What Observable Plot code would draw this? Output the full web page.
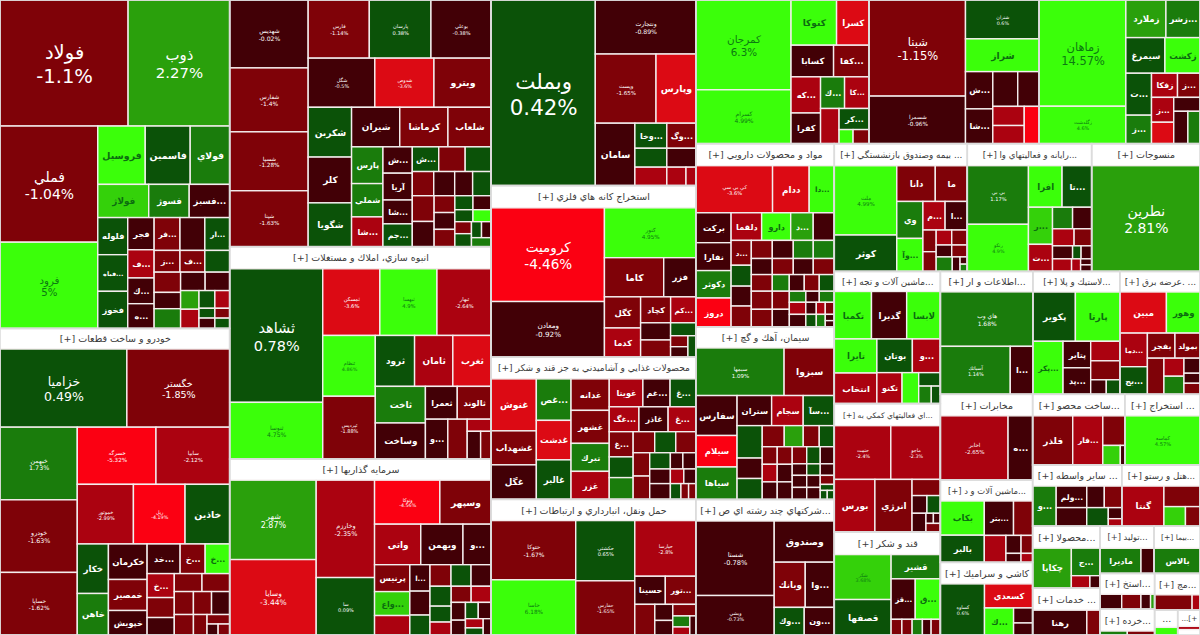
<!DOCTYPE html>
<html><head><meta charset="utf-8">
<style>html,body{margin:0;padding:0;background:#fff;overflow:hidden}</style>
<script src="https://cdn.jsdelivr.net/npm/d3@7"></script>
<script src="https://cdn.jsdelivr.net/npm/@observablehq/plot@0.6"></script>
</head><body><div id="chart"></div>
<script>
// Each leaf: [ticker, % change, market weight]. "v" stacks children, "h" sets them side by side.
const metals=["v",
 ["h",["فولاد",-1.1,16064],["ذوب",2.27,12738]],
 ["h",["v",["فملي",-1.04,11300],["فرود",5,8390]],
  ["v",
   ["h",["فروسيل",4.5,2755],["فاسمين",0.6,2610],["فولاي",1.5,2291]],
   ["h",["فولاژ",3.5,1683],["فسوژ",1.5,1337],["...فسبز",-0.7,1337]],
   ["h",
    ["v",["فلوله",0.6,1106],["...فباه",0.6,1092],["فخوز",0.6,1106]],
    ["v",["فجر",-0.7,845],["...ف",-2.5,741],["...ك",-0.7,676],["...ه",-0.7,650]],
    ["v",
     ["h",["...فر",-1.5,845],["",-0.7,812],["...ار",0.6,812]],
     ["h",["...ز",-1.5,559],["...ف",-1.5,537],["",0.6,537]],
     ["h",
      ["v",["",-1.5,533],["",-0.7,429],["",1.5,520]],
      ["v",
       ["h",["",-0.7,450],["",-0.7,450]],
       ["h",
        ["v",["",2.5,342],["",-2.5,351]],
        ["v",["",0.6,279],["",0.6,155],["",-0.7,163]],
        ["v",["",-2.5,261],["",-1.5,145],["",0.6,152
 ]]]]] ]]]]];
const auto=["v",["خودرو و ساخت قطعات [+]",null,4705],
 ["h",["خزاميا",0.49,9867],["خگستر",-1.85,7995]],
 ["h",["v",["خبهمن",1.73,5582],["خودرو",-1.63,5582],["خساپا",-1.62,4812]],
  ["v",
   ["h",["خسرگه",-5.32,4475],["سايپا",-2.12,4190]],
   ["h",["خموتور",-2.99,3332],["ريل",-4.19,3064],["خاذين",0.6,2648]],
   ["h",
    ["v",["خكار",0.6,1535],["خاهن",1.5,1287]],
    ["v",["خكرمان",-0.7,1367],["خمصير",-1.5,1194],["خپويش",-0.7,943]],
    ["v",
     ["h",["...خد",-0.7,974],["...خ",-1.5,738],["...خ",4.5,723]],
     ["h",
      ["v",["...خ",-2.3,648],["",-1.5,540],["",-0.7,472]],
      ["v",
       ["h",["",-1.5,495],["",-1.5,495]],
       ["h",["",-1.5,437],["",-1.5,414],["",-0.7,414]],
       ["h",["",-1.5,390],["",-1.5,277],
        ["v",["",-1.5,214],["h",["",-0.7,121],["",-1.5,126
 ]]]]] ]]]]] ];
const chem=["h",
 ["v",["شهديس",-0.02,5304],["شفارس",-1.4,4992],["شسپا",-1.28,4602],["شپنا",-1.63,4368]],
 ["v",
  ["h",["فارس",-1.14,3538],["پارسان",0.38,3567],["بوعلي",-0.38,3480]],
  ["h",["شگل",-0.5,3258],["شدوص",-3.6,2891],["ويترو",-1.8,2793]],
  ["h",
   ["v",["شكربن",0.6,2150],["كلر",-0.6,1978],["شگويا",0.6,1892]],
   ["v",
    ["h",["شيران",-0.6,1896],["كرماشا",-1.5,1896],["شلعاب",-1.5,1698]],
    ["h",
     ["v",["پارس",1.5,1147],["شملي",1.5,1039],["...شا",-2.5,930]],
     ["v",["...ش",-0.7,769],["آريا",-0.7,783],["...شا",-0.7,696],["...جم",0.6,667]],
     ["v",
      ["h",["...ش",0.6,650],["",-1.5,650],["",0.6,637]],
      ["h",["",-1.5,516],["",-0.7,504],["",-0.7,432],["",0.6,444]],
      ["h",
       ["v",["",-1.5,559],["",-0.8,548]],
       ["v",["",-1.8,347],["",-0.7,347],["",-1.8,357]],
       ["v",
        ["h",["",0.6,252],["",-0.7,252]],
        ["h",["",0.6,216],["",5,216]],
        ["h",
         ["v",["",-1.5,198],["",0.6,215]],
         ["v",["h",["",0.6,160],["",-0.7,152]],["",1.2,176
 ]]]]] ]]]]] ];
const mass=["v",["انبوه سازي، املاك و مستغلات [+]",null,5742],
 ["h",
  ["v",["ثشاهد",0.78,12369],["ثنوسا",4.75,5254]],
  ["v",
   ["h",["ثمسكن",-3.6,3790],["ثبهسا",4.9,3790],["ثبهار",-2.64,3591]],
   ["h",
    ["v",["ثنظام",4.86,3180],["ثپرديس",-1.88,3286]],
    ["v",
     ["h",["ثرود",0.6,1989],["ثامان",-2.5,1938],["ثغرب",-3.5,1938]],
     ["h",
      ["v",["ثاخت",1.5,1825],["وساخت",-0.7,1800]],
      ["v",
       ["h",["ثعمرا",-0.7,1040],["ثالوند",-1.5,1105]],
       ["h",["...و",-0.7,889],["",-1.5,770],
        ["v",["",-2.5,288],["h",["",-0.8,371],["",-1.5,289
 ]]]]] ]]]]] ];
const invest=["v",["سرمايه گذاريها [+]",null,5481],
 ["h",
  ["v",["شهر",2.87,6837],["وسايا",-3.44,6493]],
  ["v",["وخارزم",-2.35,5655],["سا",0.09,3335]],
  ["v",
   ["h",["وتوكا",-4.56,2860],["وسپهر",-1.7,2244]],
   ["h",["واتي",-2.5,1863],["ويهمن",-0.7,1701],["...و",-0.7,1134]],
   ["h",
    ["v",["پرنيس",-1.8,945],["...واع",3.5,840],["",-2.5,683]],
    ["v",["...ا",-0.7,530],["",-0.7,480],["",0.6,400]],
    ["v",
     ["h",["",-1.5,451],["",0.6,430],["",-0.7,430]],
     ["h",
      ["v",["",0.6,420],["",0.6,336],["",-2.5,273]],
      ["v",
       ["h",["",-1.5,320],["",-2.5,320]],
       ["h",
        ["v",["",-0.7,252],["",-0.7,210]],
        ["v",
         ["h",["",0.6,208],["",-0.7,208]],
         ["h",["v",["",-2.5,162],["",0.6,126]],["",-0.7,128
 ]]]]] ]]]]] ];
const banks=["h",["وبملت",0.42,19240],
 ["v",["ونتجارت",-0.89,5404],
  ["h",["وپست",-1.65,4179],["وپارس",-3.5,2740]],
  ["h",["سامان",-0.7,2457],
   ["v",
    ["h",["...وخا",0.6,796],["...وگ",-2.0,723]],
    ["h",["",0.6,601],["",-0.7,546]],
    ["h",["",-2.3,585],["",-2.3,351],["",-2.3,180
 ]]]]] ];
const kane=["v",["استخراج كانه هاي فلزي [+]",null,4532],
 ["h",
  ["v",["كروميت",-4.46,10566],["ومعادن",-0.92,6272]],
  ["v",["كنور",4.95,4533],
   ["h",["كاما",-1.6,2310],["فزر",-0.7,1251]],
   ["h",
    ["v",["كگل",-1.6,1120],["كدما",-2.5,1050]],
    ["v",
     ["h",["كچاد",-1.5,775],["...كم",-2.3,650]],
     ["h",
      ["v",["",-0.7,512],["",-1.5,512]],
      ["v",["",0.6,325],
       ["h",["v",["",-1.5,189],["",-0.7,180]],["",0.6,168
 ]]]]] ]]]];
const food=["v",["محصولات غذايي و آشاميدني به جز قند و شكر [+]",null,4429],
 ["h",
  ["v",["غنوش",-3.6,2340],["غشهداب",-1.5,1530],["غگل",-0.7,1553]],
  ["v",["...غص",1.5,1432],["غدشت",-3.5,1363],["غالبر",0.6,1363]],
  ["v",["غدانه",-1.5,1197],["غشهر",-1.5,1254],["تبرك",1.5,1064],["غزر",-2.3,1064]],
  ["v",
   ["h",["غويتا",-2.5,935],["...غم",-0.7,756],["...غ",0.6,715]],
   ["h",["...غگ",-2.3,735],["غاذر",-0.7,723],["...غ",-2.3,686]],
   ["h",
    ["v",["...غ",-1.5,599],["",0.6,494],["",1.5,517]],
    ["v",
     ["h",["",-1.5,451],["",0.6,441],["",-1.5,420]],
     ["h",
      ["v",["",-1.5,384],["",-1.5,384]],
      ["v",
       ["h",["",0.6,333],["",-0.7,202],["",-0.7,209]],
       ["h",["",-0.7,301],["",-2.3,196],["",-0.7,175]],
       ["h",["",-0.7,323],["",0.6,165],["",-1.5,120],["",-2,113
 ]]]]] ]]]];
const haml=["v",["حمل ونقل، انبارداري و ارتباطات [+]",null,4326],
 ["h",
  ["v",["حتوكا",-1.67,4986],["حاسا",6.18,4648]],
  ["v",["حكشتي",0.65,3540],["حفارس",-1.65,3186]],
  ["v",["حپارسا",-2.8,3379],
   ["h",["حسينا",-0.7,853],["...تور",-2,853]],
   ["h",["",-1.5,610],
    ["v",["",-0.7,288],["",-0.7,261]],
    ["v",["",-1.5,265],
     ["h",["v",["",1.5,187],["",-2.5,136]],["",-0.7,114
 ]]]]] ]];
const mines=["h",
 ["v",["كمرجان",6.3,8505],["كسرام",4.99,5103]],
 ["v",
  ["h",["كتوكا",4.5,2048],["كسرا",-3.5,1463]],
  ["h",["كسابا",-0.7,1339],["...كفا",-2,1118]],
  ["h",
   ["v",["...كه",-2.3,1062],["كفرا",-0.7,900]],
   ["v",
    ["h",["...ك",1.5,756],["...كا",-2.3,772]],
    ["h",["",-2.3,648],
     ["v",["...كر",0.6,630],["h",["",4.5,196],["",-2,224
 ]]]]] ]]];
const oil=["h",
 ["v",["شبنا",-1.15,9216],["شسمرا",-0.96,4560]],
 ["v",["شتران",0.6,2849],["شراز",4.5,2405],
  ["h",
   ["v",["...ش",-0.7,1012],["...شا",-0.7,945]],
   ["v",
    ["h",["",-0.7,862],["",-0.7,742]],
    ["h",
     ["v",["",-2.5,599],["",-2.5,567]],
     ["",-4.5,555
 ]]]]] ];
const zr=["h",
 ["v",["زماهان",14.57,9159],["زگلدشت",4.6,3225]],
 ["v",
  ["h",["زملارد",2.5,1500],["...زشر",1.5,1275]],
  ["h",["سيمرغ",0.6,1385],["زكشت",4.5,1243]],
  ["h",
   ["v",["...ت",0.6,1071],["...ز",1.5,727]],
   ["v",
    ["h",["زفكا",-2.3,624],["...ز",-1.5,540]],
    ["h",
     ["v",["...ز",-2.2,550],["",-3.5,473]],
     ["v",["",-0.7,364],["h",["",-0.7,455],["",1.5,390
 ]]]]] ]]];
const pharma=["v",["مواد و محصولات دارويي [+]",null,3036],
 ["h",["كي بي سي",-3.6,3596],["ددام",-3.5,1716],["...دا",4.5,1175]],
 ["h",
  ["v",["بركت",-0.7,1050],["نفارا",-0.7,980],["دكوثر",1.5,962],["دروز",-4.5,1015]],
  ["v",
   ["h",["دلقما",-3,839],["دارو",4.5,798],["...د",2.5,619],["",-0.7,578]],
   ["h",
    ["v",["...د",-1.5,500],["",0.9,420],["",-0.7,400],["",-1.5,420]],
    ["v",
     ["h",["",-1.5,378],["",-0.7,378],["",1.5,360],["",1.5,378]],
     ["h",["",-0.7,336],["",-1.5,336],["",-0.7,320],["",-1.5,336]],
     ["h",["",-1.5,347],["",1.5,281],["",-0.7,248],["",-1.5,248],["",0.6,248]],
     ["h",
      ["v",["",-1.5,378],["",-1.5,368]],
      ["v",["",-1.5,306],["",-0.7,298]],
      ["v",
       ["h",["",1.5,182],["",-0.7,148],["",1.5,165]],
       ["h",["",-2.3,198],["",-0.7,126],["",-2.5,108],["",-2,108]],
       ["h",["",-0.7,206],["",0.6,131],["",1.5,112],["v",["",-0.7,56],["",-0.7,56
 ]]]]] ]]]]];
const cement=["v",["سيمان، آهك و گچ [+]",null,2898],
 ["h",["سيمها",1.09,4180],["سبزوا",-1.5,2375]],
 ["h",
  ["v",["سفارس",-0.7,1640],["سيلام",-4.5,1292],["سياها",1.5,1333]],
  ["v",
   ["h",["ستران",-0.7,1035],["سجام",-2.3,945],["...سآ",0.6,930]],
   ["h",
    ["v",["",0.6,812],["",-0.7,512],["",0.6,525]],
    ["v",
     ["h",["",-1.5,462],["",2.5,399],["",-1.5,336],["",0.6,315]],
     ["h",
      ["v",["",-1.5,262],["",-2.5,262],["",-0.7,262]],
      ["v",["",-1.5,262],["",-0.7,262],["",-0.7,262]],
      ["v",["",-1.5,246],["",-0.7,167],["",-0.7,174],["",-0.7,174]],
      ["v",["",0.6,230],["",0.6,155],["",-0.7,162],["",-0.7,162]],
      ["v",["",-0.7,238],["",-0.7,161],["",-1.5,126],["",0.6,84],["h",["",0.6,63],["",0.6,63
 ]]]]] ]]]];
const multi=["v",["...شركتهاي چند رشته اي ص [+]",null,2967],
 ["h",
  ["v",["شستا",-0.78,5811],["وبشي",-0.73,3081]],
  ["v",["وصندوق",-0.7,2460],
   ["h",["وبانك",-1.5,1395],["...وا",-0.7,1305]],
   ["h",["...وك",0.6,825],["...ون",-0.7,825
 ]]]]];
const bime=["v",["... بيمه وصندوق بازنشستگي [+]",null,2926],
 ["h",
  ["v",["ملت",4.99,4309],["كوثر",0.6,2263]],
  ["v",
   ["h",["دانا",-1.5,1367],["ما",-1.5,1136]],
   ["h",
    ["v",["وي",1.5,962],["...وآ",4.5,858]],
    ["v",
     ["h",["...م",-2.5,630],["...ا",-0.7,630]],
     ["h",
      ["v",["",-1.5,286],["",-1.5,260]],
      ["v",
       ["h",["",-3,232],["",-1.5,232]],
       ["h",["",-0.7,184],["",-1.5,184]],
       ["h",["",1.5,232],["",-0.7,112],["v",["",-0.7,52],["",1.5,52
 ]]]]] ]]]]];
const rayane=["v",["...رايانه و فعاليتهاي وا [+]",null,2728],
 ["h",
  ["v",["بي بي",1.17,3569],["رتكو",4.9,2867]],
  ["v",
   ["h",["افرا",4.5,1390],["...تا",0.6,1224]],
   ["h",
    ["v",["...ر",3.5,888],["...ت",-2.2,648]],
    ["v",
     ["h",["",1.5,430],["",-0.7,409]],
     ["h",["",-3,366],["",-1.5,298]],
     ["h",["",-0.7,260],["",0.6,110],["",-0.7,137]],
     ["h",["",-3,238],["",-3,113],["v",["",-0.7,66],["",-0.7,72
 ]]]]] ]]];
const mansooj=["v",["منسوجات [+]",null,2376],["نطرين",2.81,11394]];
const machine=["v",["...ماشين آلات و تجه [+]",null,2120],
 ["h",["تكمبا",4.5,1758],["گدیرا",-0.7,1662],["لابسا",4.5,1591]],
 ["h",
  ["v",["تايرا",4.5,1445],["انتخاب",-2.3,1296]],
  ["v",
   ["h",["بوتان",0.6,1189],["...و",-2.5,938]],
   ["h",["تكنو",-3,775],["",4.5,512],
    ["v",["",0.6,290],["h",["",1.5,219],["",0.6,158
 ]]]]] ]];
const komaki=["v",["...اي فعاليتهاي كمكي به [+]",null,2332],
 ["h",["حتمت",-2.4,3023],["ماجو",-2.3,2648]],
 ["h",["بورس",-2.3,2126],["انرژي",-1.7,1943],
  ["v",["",-1.5,456],
   ["h",["",-0.7,262],["",0.6,236]],
   ["h",["",-0.7,259],["v",["h",["",-0.7,75],["",-0.7,70]],["",-2,123
 ]]]]] ];
const ghand=["v",["قند و شكر [+]",null,2385],
 ["h",
  ["v",["شكر",3.68,2543],["قصفها",0.6,2006]],
  ["v",["قشير",1.5,1188],
   ["h",["...قز",-0.7,972],["...ق",4.5,1012]],
   ["h",["",-1.5,168],["",-1.5,160],["",1.5,160],["",-0.7,136],["",-1.5,144
 ]]]]];
const etela=["v",["...اطلاعات و ار [+]",null,1886],
 ["هاي وب",1.68,5014],
 ["h",["آسياتك",1.14,3336],["...ا",-0.7,1080]]];
const plast=["v",["...لاستيك و پلا [+]",null,1784],
 ["h",["پكوير",0.6,2082],["پارتا",4.5,2180]],
 ["h",["...پكر",4.5,1590],
  ["v",["پتاير",-0.7,729],["...پد",-0.7,729]],
  ["v",["",-2.3,566],["",-1.5,551],["h",["",-0.7,225],["",0.6,196
 ]]]]];
const bargh=["v",["... .عرضه برق [+]",null,1640],
 ["h",["مبين",-3.5,1906],["وهور",4.5,1374]],
 ["h",
  ["v",["...دما",-3,921],["...بج",0.6,756]],
  ["v",
   ["h",["بفجر",-1.5,688],["بمولد",-1.5,625]],
   ["h",["",-1.5,594],
    ["v",["",-2.5,360],["",1.5,360]],
    ["v",["",-0.7,240],["",-0.7,160],["",-1.5,176
 ]]]]] ];
const mokh=["v",["مخابرات [+]",null,1978],["h",["اخابر",-2.65,4320],["...ه",-0.7,1568]]];
const mach2=["v",["...ماشين آلات و د [+]",null,1932],
 ["h",
  ["v",["بكاب",4.5,1496],["بالبر",0.6,1188]],
  ["v",
   ["h",["...بتر",-0.7,1000],["",-1.5,655]],
   ["h",["",-2.3,580],
    ["v",["h",["",-0.7,270],["",-1.5,207]],["h",["",-0.7,135],["",-2.3,104
 ]]]]] ]];
const kashi=["v",["كاشي و سراميك [+]",null,1978],
 ["h",["كساوه",0.6,2244],
  ["v",["كسعدي",-3.5,1152],
   ["h",["...ك",4.5,783],["v",["",-0.7,285],["",-0.7,228
 ]]]]] ];
const sakht=["v",["...ساخت محصو [+]",null,1978],
 ["h",["فلذر",-1.5,1960],["...فار",-2.3,1470],
  ["v",["",-2,649],["h",["",3.8,341],["",-0.7,88
 ]]]]];
const estekh=["v",["... استخراج [+]",null,1612],["كماسه",4.57,3675]];
const vase=["v",["... ساير واسطه [+]",null,1869],
 ["h",["...و",1.5,940],
  ["v",
   ["h",["...ولم",-0.8,656],["",-0.7,376],["",-2,376]],
   ["h",["",-0.7,564],["",0.6,398],["v",["",-0.7,149],["",-2.3,101
 ]]]]] ];
const hotel=["v",["...هتل و رستو [+]",null,1638],
 ["h",["گنتا",-2.3,1680],
  ["v",["",-1.5,738],["h",["",3.5,419],["",-1.5,283
 ]]]]];
const mahsoola=["v",["...محصولا [+]",null,1474],
 ["h",["چكاپا",2.5,1540],
  ["v",["...ج",1.5,784],["h",["",-3,231],["",-0.7,125
 ]]]]];
const khadamat=["v",["... خدمات [+]",null,1474],["h",["رهنا",-0.7,1338],["",-1.5,325]]];
const tolid=["v",["...توليد [+]",null,1188],["h",["ماديرا",1.5,1025],["",-0.7,325]]];
const bima=["v",["...بيما [+]",null,1012],["بالاس",1.5,1150]];
const estk2=["v",["...استخ [+]",null,1134],["h",["",-0.7,322],["",-1.5,285],["",-0.7,143],["",2.5,60]]];
const moj=["v",["...مج [+]",null,966],["h",["",-1.5,570],["",-3,120]]];
const kharde=["v",["...خرده [+]",null,1188],["h",["",1.5,108],["",-1.5,108]]];
const small1=["v",["...",null,396],["",4.5,176]];
const small2=["v",["+]...",null,360],["",-2.3,72],["",null,120]];

const withPercent=["فولاد","ذوب","فملي","فرود","خزاميا","خگستر","خبهمن","خودرو","خساپا","خسرگه","سايپا","خموتور","ريل",
 "شهديس","شفارس","شسپا","شپنا","فارس","پارسان","بوعلي","شگل","شدوص","ثشاهد","ثنوسا","ثمسكن","ثبهسا","ثبهار","ثنظام","ثپرديس",
 "شهر","وسايا","وخارزم","سا","وتوكا","وبملت","ونتجارت","وپست","كروميت","ومعادن","كنور","حتوكا","حاسا","حكشتي","حفارس","حپارسا",
 "كمرجان","كسرام","شبنا","شسمرا","شتران","زماهان","زگلدشت","كي بي سي","سيمها","شستا","وبشي","ملت","بي بي","رتكو","نطرين","حتمت","ماجو",
 "شكر","هاي وب","آسياتك","اخابر","كساوه","كماسه"];

const colA=["v",metals,auto];
const colB=["v",chem,mass,invest];
const colC=["v",banks,kane,food,haml];
const rowTop=["h",mines,oil,zr];
const colD=["v",pharma,cement,multi];
const rowMid=["h",bime,rayane,mansooj];
const colE=["v",machine,komaki,ghand];
const rowLow=["h",etela,plast,bargh];
const colF=["v",mokh,mach2,kashi];
const rowG=["h",sakht,estekh];
const rowH=["h",vase,hotel];
const colI=["v",mahsoola,khadamat];
const rowJ=["h",tolid,bima];
const colK=["v",estk2,kharde];
const colL=["v",moj,["h",small1,small2]];
const corner=["h",colI,["v",rowJ,["h",colK,colL]]];
const colM=["v",rowG,rowH,corner];
const blockN=["v",rowLow,["h",colF,colM]];
const blockO=["v",rowMid,["h",colE,blockN]];
const right=["v",rowTop,["h",colD,blockO]];
const tree=["h",colA,colB,colC,right];

const groups=new Set([metals,auto,chem,mass,invest,banks,kane,food,haml,mines,oil,zr,pharma,cement,multi,bime,rayane,mansooj,
 machine,komaki,ghand,etela,plast,bargh,mokh,mach2,kashi,sakht,estekh,vase,hotel,mahsoola,khadamat,tolid,bima,estk2,moj,kharde,small1,small2]);

const isNode=d=>d[0]==="v"||d[0]==="h";
const root=d3.hierarchy(tree,d=>isNode(d)?d.slice(1):null).sum(d=>isNode(d)?0:d[2]);
d3.treemap().size([1200,635]).round(false)
 .tile((n,x0,y0,x1,y1)=>(n.data[0]==="v"?d3.treemapSlice:d3.treemapDice)(n,x0,y0,x1,y1))(root);

const box=n=>({x1:n.x0,x2:n.x1,y1:n.y0,y2:n.y1,cx:(n.x0+n.x1)/2,cy:(n.y0+n.y1)/2,area:(n.x1-n.x0)*(n.y1-n.y0)});
const leaves=root.leaves().map(n=>({...box(n),name:n.data[0],change:n.data[1]}));
const cells=leaves.filter(d=>d.change!==null);
const headers=leaves.filter(d=>d.change===null);
const outlines=root.descendants().filter(n=>groups.has(n.data)).map(box);

const shown=new Set(withPercent);
const bigSize=d3.scaleLinear([3000,5500,8000,10500,12500,16000,19500],[4.8,6.2,9.5,13.5,14.5,19.5,21.5]).clamp(true);
const rtl=s=>"\u200F"+s+"\u200F";
const pctCells=cells.filter(d=>shown.has(d.name));
const nameCells=cells.filter(d=>d.name&&!shown.has(d.name));
const onBright=d=>d.change>=3;
const FONT="DejaVu Sans";

const pctLabels=(data,fill)=>Plot.text(data,{x:"cx",y:"cy",lineAnchor:"middle",lineHeight:1.22,fontFamily:FONT,fill,
 text:d=>rtl(d.name)+"\n"+d.change+"%",fontSize:d=>bigSize(d.area)});
const nameLabels=(data,fill)=>Plot.text(data,{x:"cx",y:"cy",lineAnchor:"middle",fontFamily:FONT,fontWeight:"bold",fill,
 text:d=>rtl(d.name),fontSize:d=>Math.min(6.5+Math.sqrt(d.area)/18,(d.x2-d.x1-3)/(d.name.length*0.6))});

const chart=Plot.plot({
 width:1200,height:635,margin:0,
 x:{domain:[0,1200],range:[0,1200],axis:null},
 y:{domain:[0,635],range:[0,635],axis:null},
 color:{type:"threshold",domain:[-4,-3,-2,-1,0,1,2,3,4],
  range:["#fb0012","#dc0a14","#ab0210","#7f0208","#420006","#0b5208","#1a7c0c","#2aa00c","#34d10a","#3bff0a"]},
 style:{background:"#fff",display:"block"},
 marks:[
  Plot.rect(headers,{x1:"x1",x2:"x2",y1:"y1",y2:"y2",fill:"white"}),
  Plot.rect(cells,{x1:"x1",x2:"x2",y1:"y1",y2:"y2",fill:"change",stroke:"#f4eeee",strokeWidth:1.4}),
  Plot.rect(outlines,{x1:"x1",x2:"x2",y1:"y1",y2:"y2",stroke:"#dcdcdc",strokeWidth:1.6,fill:"none"}),
  pctLabels(pctCells.filter(onBright),"#0c7a12"),
  pctLabels(pctCells.filter(d=>!onBright(d)),"#ffffff"),
  nameLabels(nameCells.filter(onBright),"#0c6c10"),
  nameLabels(nameCells.filter(d=>!onBright(d)),"#ffffff"),
  Plot.text(headers.filter(d=>d.name),{x:"cx",y:"cy",lineAnchor:"middle",fontFamily:FONT,fontSize:d=>Math.min(9.5,(d.x2-d.x1-4)/(d.name.length*0.5)),fill:"#3a3a3a",text:d=>rtl(d.name)})
 ]
});
document.getElementById("chart").append(chart);
</script></body></html>
